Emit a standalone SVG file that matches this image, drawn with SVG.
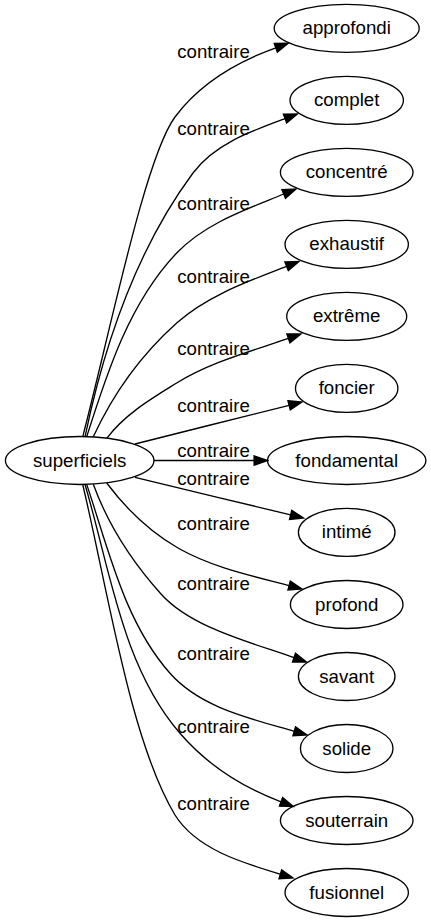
<svg xmlns="http://www.w3.org/2000/svg" width="431" height="923" viewBox="0 0 431 923">
<style>
  .node ellipse { fill: none; stroke: #000; stroke-width: 1.33; }
  text { font-family: "Liberation Sans", Arial, sans-serif; font-size: 18.67px; fill: #000; text-anchor: middle; }
  .edge path { fill: none; stroke: #000; stroke-width: 1.33; marker-end: url(#arr); }
</style>
<defs>
  <marker id="arr" viewBox="-1 -6 16 12" markerWidth="16" markerHeight="12" refX="0" refY="0" orient="auto" markerUnits="userSpaceOnUse">
    <path d="M0,-4.67 L13.3,0 L0,4.67 Z" fill="#000" stroke="#000" stroke-width="1.33"/>
  </marker>
</defs>
<rect width="431" height="923" fill="#fff"/>
<g id="edges">
  <g class="edge"><path d="M82.7,436.8 C110.7,329.4 145.2,157.2 175,117 C199.4,84 237.3,61.7 275.8,47.8"/><text x="213.5" y="58.2">contraire</text></g>
  <g class="edge"><path d="M85,436.8 C104.3,343.8 136.5,249.3 193,173 C214.4,144.1 251.2,131.1 285,118.6"/><text x="213.5" y="134.8">contraire</text></g>
  <g class="edge"><path d="M86.7,436.8 C107.2,371.9 129.7,302.2 176.7,253 C205,223.4 245.8,209.6 283.7,194"/><text x="213.5" y="209.8">contraire</text></g>
  <g class="edge"><path d="M93.3,436.8 C113,394 141.7,354.3 176.7,323 C207.2,295.7 248.4,281.2 286.6,266.3"/><text x="213.5" y="283.2">contraire</text></g>
  <g class="edge"><path d="M106.7,438.4 C124.7,414.4 151.2,398.8 176.7,383 C210.7,361.9 250.6,351.6 288.4,338.4"/><text x="213.5" y="354.8">contraire</text></g>
  <g class="edge"><path d="M135,444 C185,431 240,418 289.1,405.3"/><text x="213.5" y="411.5">contraire</text></g>
  <g class="edge"><path d="M154,460.5 L254.1,460.5"/><text x="213.5" y="457.2">contraire</text></g>
  <g class="edge"><path d="M135,477.3 C185,489.5 240,502.6 290.6,514.9"/><text x="213.5" y="484.8">contraire</text></g>
  <g class="edge"><path d="M106.7,483 C125.9,508.6 150.2,532 178,548 C211,567 251.4,575.7 289.1,585.6"/><text x="213.5" y="529.8">contraire</text></g>
  <g class="edge"><path d="M93.3,484.2 C108.3,525.4 133.2,563 161,594 C190.5,627 247.7,641.4 294,657.6"/><text x="213.5" y="589.8">contraire</text></g>
  <g class="edge"><path d="M86.7,484.4 C108.7,549.7 124.3,621.5 170,673.3 C200.5,707.8 250,718.4 294.2,731.3"/><text x="213.5" y="659.8">contraire</text></g>
  <g class="edge"><path d="M85,484.5 C110.3,569.8 121.9,665.8 180,733.3 C206.8,764.4 242.6,787.4 281,801.8"/><text x="213.5" y="733.2">contraire</text></g>
  <g class="edge"><path d="M82.7,484.5 C108,590.5 130,740 175,815 C196.2,849 242,862.7 280.3,874.2"/><text x="213.5" y="809.8">contraire</text></g>
</g>
<g id="superficiels" class="node"><ellipse cx="79.7" cy="460.5" rx="74.3" ry="24"/><text x="79.7" y="466.5">superficiels</text></g>
<g id="approfondi" class="node"><ellipse cx="346.7" cy="28.3" rx="72.5" ry="24"/><text x="346.7" y="34.3">approfondi</text></g>
<g id="complet" class="node"><ellipse cx="346.7" cy="100.3" rx="56.7" ry="24"/><text x="346.7" y="106.3">complet</text></g>
<g id="concentre" class="node"><ellipse cx="346.7" cy="172.3" rx="66.3" ry="24"/><text x="346.7" y="178.3">concentré</text></g>
<g id="exhaustif" class="node"><ellipse cx="346.7" cy="244.4" rx="61.7" ry="24"/><text x="346.7" y="250.4">exhaustif</text></g>
<g id="extreme" class="node"><ellipse cx="346.7" cy="316.4" rx="60" ry="24"/><text x="346.7" y="322.4">extrême</text></g>
<g id="foncier" class="node"><ellipse cx="346.7" cy="388.4" rx="51.2" ry="24"/><text x="346.7" y="394.4">foncier</text></g>
<g id="fondamental" class="node"><ellipse cx="346.7" cy="460.5" rx="79.2" ry="24"/><text x="346.7" y="466.5">fondamental</text></g>
<g id="intime" class="node"><ellipse cx="346.7" cy="532.4" rx="48.3" ry="24"/><text x="346.7" y="538.4">intimé</text></g>
<g id="profond" class="node"><ellipse cx="346.7" cy="604.5" rx="56.3" ry="24"/><text x="346.7" y="610.5">profond</text></g>
<g id="savant" class="node"><ellipse cx="346.7" cy="676.5" rx="48.3" ry="24"/><text x="346.7" y="682.5">savant</text></g>
<g id="solide" class="node"><ellipse cx="346.7" cy="748.5" rx="46.3" ry="24"/><text x="346.7" y="754.5">solide</text></g>
<g id="souterrain" class="node"><ellipse cx="346.7" cy="820.5" rx="66.3" ry="24"/><text x="346.7" y="826.5">souterrain</text></g>
<g id="fusionnel" class="node"><ellipse cx="346.7" cy="892.5" rx="61.7" ry="24"/><text x="346.7" y="898.5">fusionnel</text></g>
</svg>
